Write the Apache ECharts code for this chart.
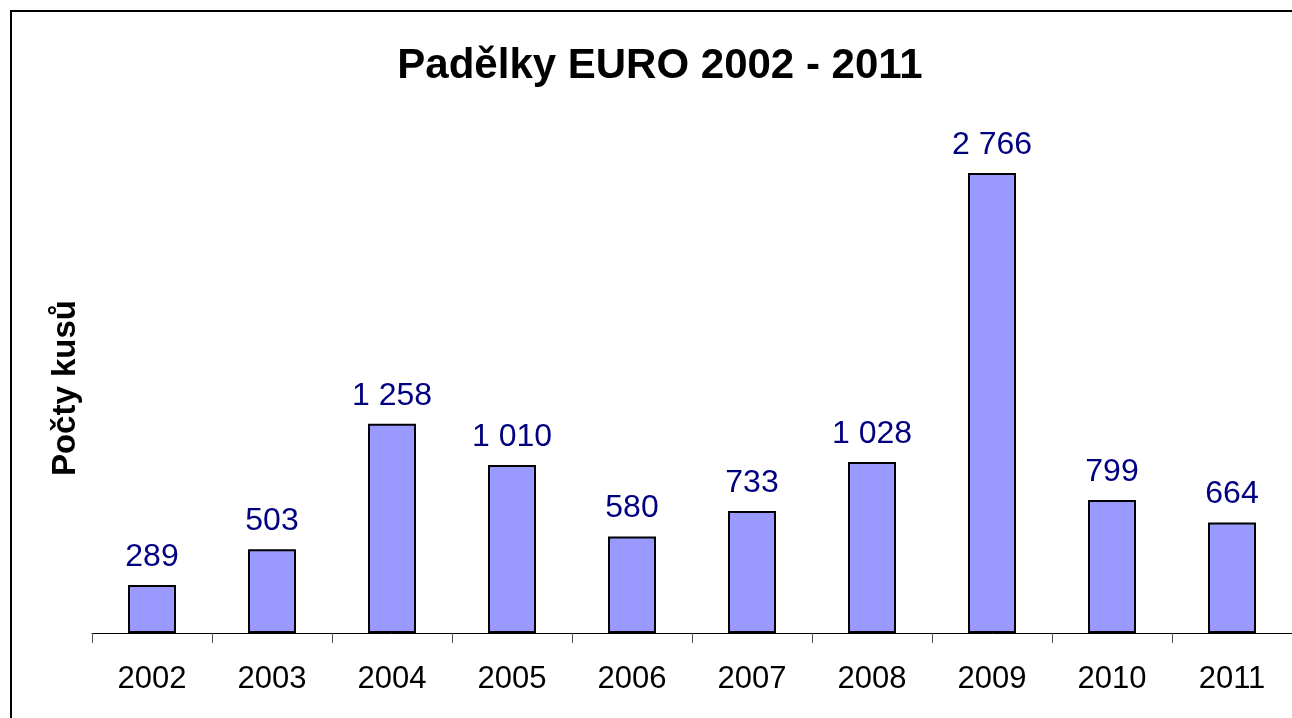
<!DOCTYPE html>
<html>
<head>
<meta charset="utf-8">
<script src="https://cdn.jsdelivr.net/npm/echarts@6/dist/echarts.min.js"></script>
<style>
  html, body { margin: 0; padding: 0; background: #fff; }
  #main { width: 1292px; height: 718px; }
</style>
</head>
<body>
<div id="main"></div>
<script>
const years = ['2002', '2003', '2004', '2005', '2006', '2007', '2008', '2009', '2010', '2011'];
const counts = [289, 503, 1258, 1010, 580, 733, 1028, 2766, 799, 664];

const fmt = v => String(v).replace(/\B(?=(\d{3})+(?!\d))/g, ' ');

const myChart = echarts.init(document.getElementById('main'));
const option = {
    backgroundColor: '#fff',
    animation: false,
    textStyle: { fontFamily: 'Liberation Sans, Arial, sans-serif' },
    title: {
        text: 'Padělky EURO 2002 - 2011',
        left: 655,
        top: 40,
        textAlign: 'center',
        textStyle: { fontSize: 42, fontWeight: 'bold', color: '#000', fontFamily: 'Liberation Sans, Arial, sans-serif' }
    },
    graphic: [
        {
            type: 'rect',
            shape: { x: 11, y: 11, width: 1400, height: 800 },
            style: { fill: 'none', stroke: '#000', lineWidth: 2 },
            silent: true
        },
        {
            type: 'text',
            left: 49,
            top: 300,
            rotation: Math.PI / 2,
            style: {
                text: 'Počty kusů',
                fill: '#000',
                font: 'bold 33px Liberation Sans, Arial, sans-serif'
            }
        }
    ],
    grid: { left: 92, right: 0, top: 134, bottom: 85 },
    xAxis: {
        type: 'category',
        data: years,
        axisLine: { lineStyle: { color: '#000', width: 1 } },
        axisTick: { show: true, length: 10, lineStyle: { color: '#555' } },
        axisLabel: { color: '#000', fontSize: 31, margin: 31 }
    },
    yAxis: {
        type: 'value',
        min: 0,
        max: 3000,
        show: false
    },
    series: [
        {
            type: 'bar',
            data: counts,
            barWidth: '40%',
            itemStyle: { color: '#9999FF', borderColor: '#000', borderWidth: 2 },
            label: {
                show: true,
                position: 'top',
                distance: 12,
                color: '#000080',
                fontSize: 32,
                formatter: p => fmt(p.value)
            }
        }
    ]
};
myChart.setOption(option);
</script>
</body>
</html>
